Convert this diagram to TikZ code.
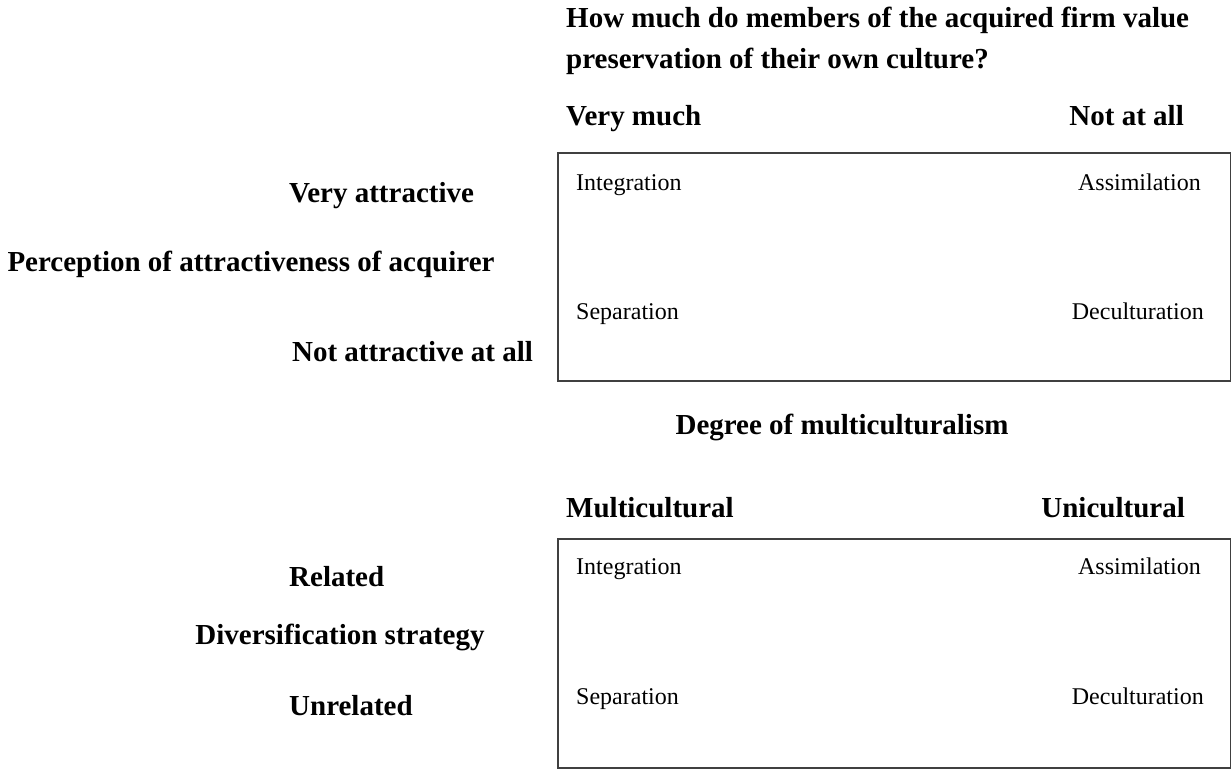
\documentclass[tikz,border=0pt]{standalone}
\usepackage{fontspec}
\setmainfont{Liberation Serif}
\tikzset{
  hd/.style={font=\fontsize{29}{34}\selectfont\bfseries, inner sep=0pt},
  cell/.style={font=\fontsize{24}{29}\selectfont, inner sep=0pt},
  frame/.style={draw=black!75, line width=1.6pt},
}
\begin{document}
\begin{tikzpicture}[x=1pt,y=-1pt]
\useasboundingbox (0,0) rectangle (1231,769);
% ---------- upper matrix ----------
\node[hd, anchor=base west] (t1) at (566,27) {How much do members of the acquired firm value};
\node[hd, anchor=base west] (t2) at (566,68) {preservation of their own culture?};
\node[hd, anchor=base west] (vm) at (566,125) {Very much};
\node[hd, anchor=base east] (na) at (1184,125) {Not at all};
\node[frame, minimum width=673, minimum height=228, anchor=north west, inner sep=0pt] (b1) at (557,152) {};
\node[cell, anchor=base west] (i1) at (576,190) {Integration};
\node[cell, anchor=base east] (a1) at (1201,190) {Assimilation};
\node[cell, anchor=base west] (s1) at (576,319) {Separation};
\node[cell, anchor=base east] (d1) at (1204,319) {Deculturation};
\node[hd, anchor=base] (va) at (381.5,202) {Very attractive};
\node[hd, anchor=base] (pa) at (251,271) {Perception of attractiveness of acquirer};
\node[hd, anchor=base] (nt) at (412.5,361) {Not attractive at all};
\node[hd, anchor=base] (dm) at (842,434) {Degree of multiculturalism};
% ---------- lower matrix ----------
\node[hd, anchor=base west] (mc) at (566,517) {Multicultural};
\node[hd, anchor=base east] (uc) at (1185,517) {Unicultural};
\node[frame, minimum width=673, minimum height=229, anchor=north west, inner sep=0pt] (b2) at (557,538) {};
\node[cell, anchor=base west] (i2) at (576,574) {Integration};
\node[cell, anchor=base east] (a2) at (1201,574) {Assimilation};
\node[cell, anchor=base west] (s2) at (576,704) {Separation};
\node[cell, anchor=base east] (d2) at (1204,704) {Deculturation};
\node[hd, anchor=base west] (rl) at (289,586) {Related};
\node[hd, anchor=base] (ds) at (340,644) {Diversification strategy};
\node[hd, anchor=base west] (ur) at (289,715) {Unrelated};
\end{tikzpicture}
\end{document}
